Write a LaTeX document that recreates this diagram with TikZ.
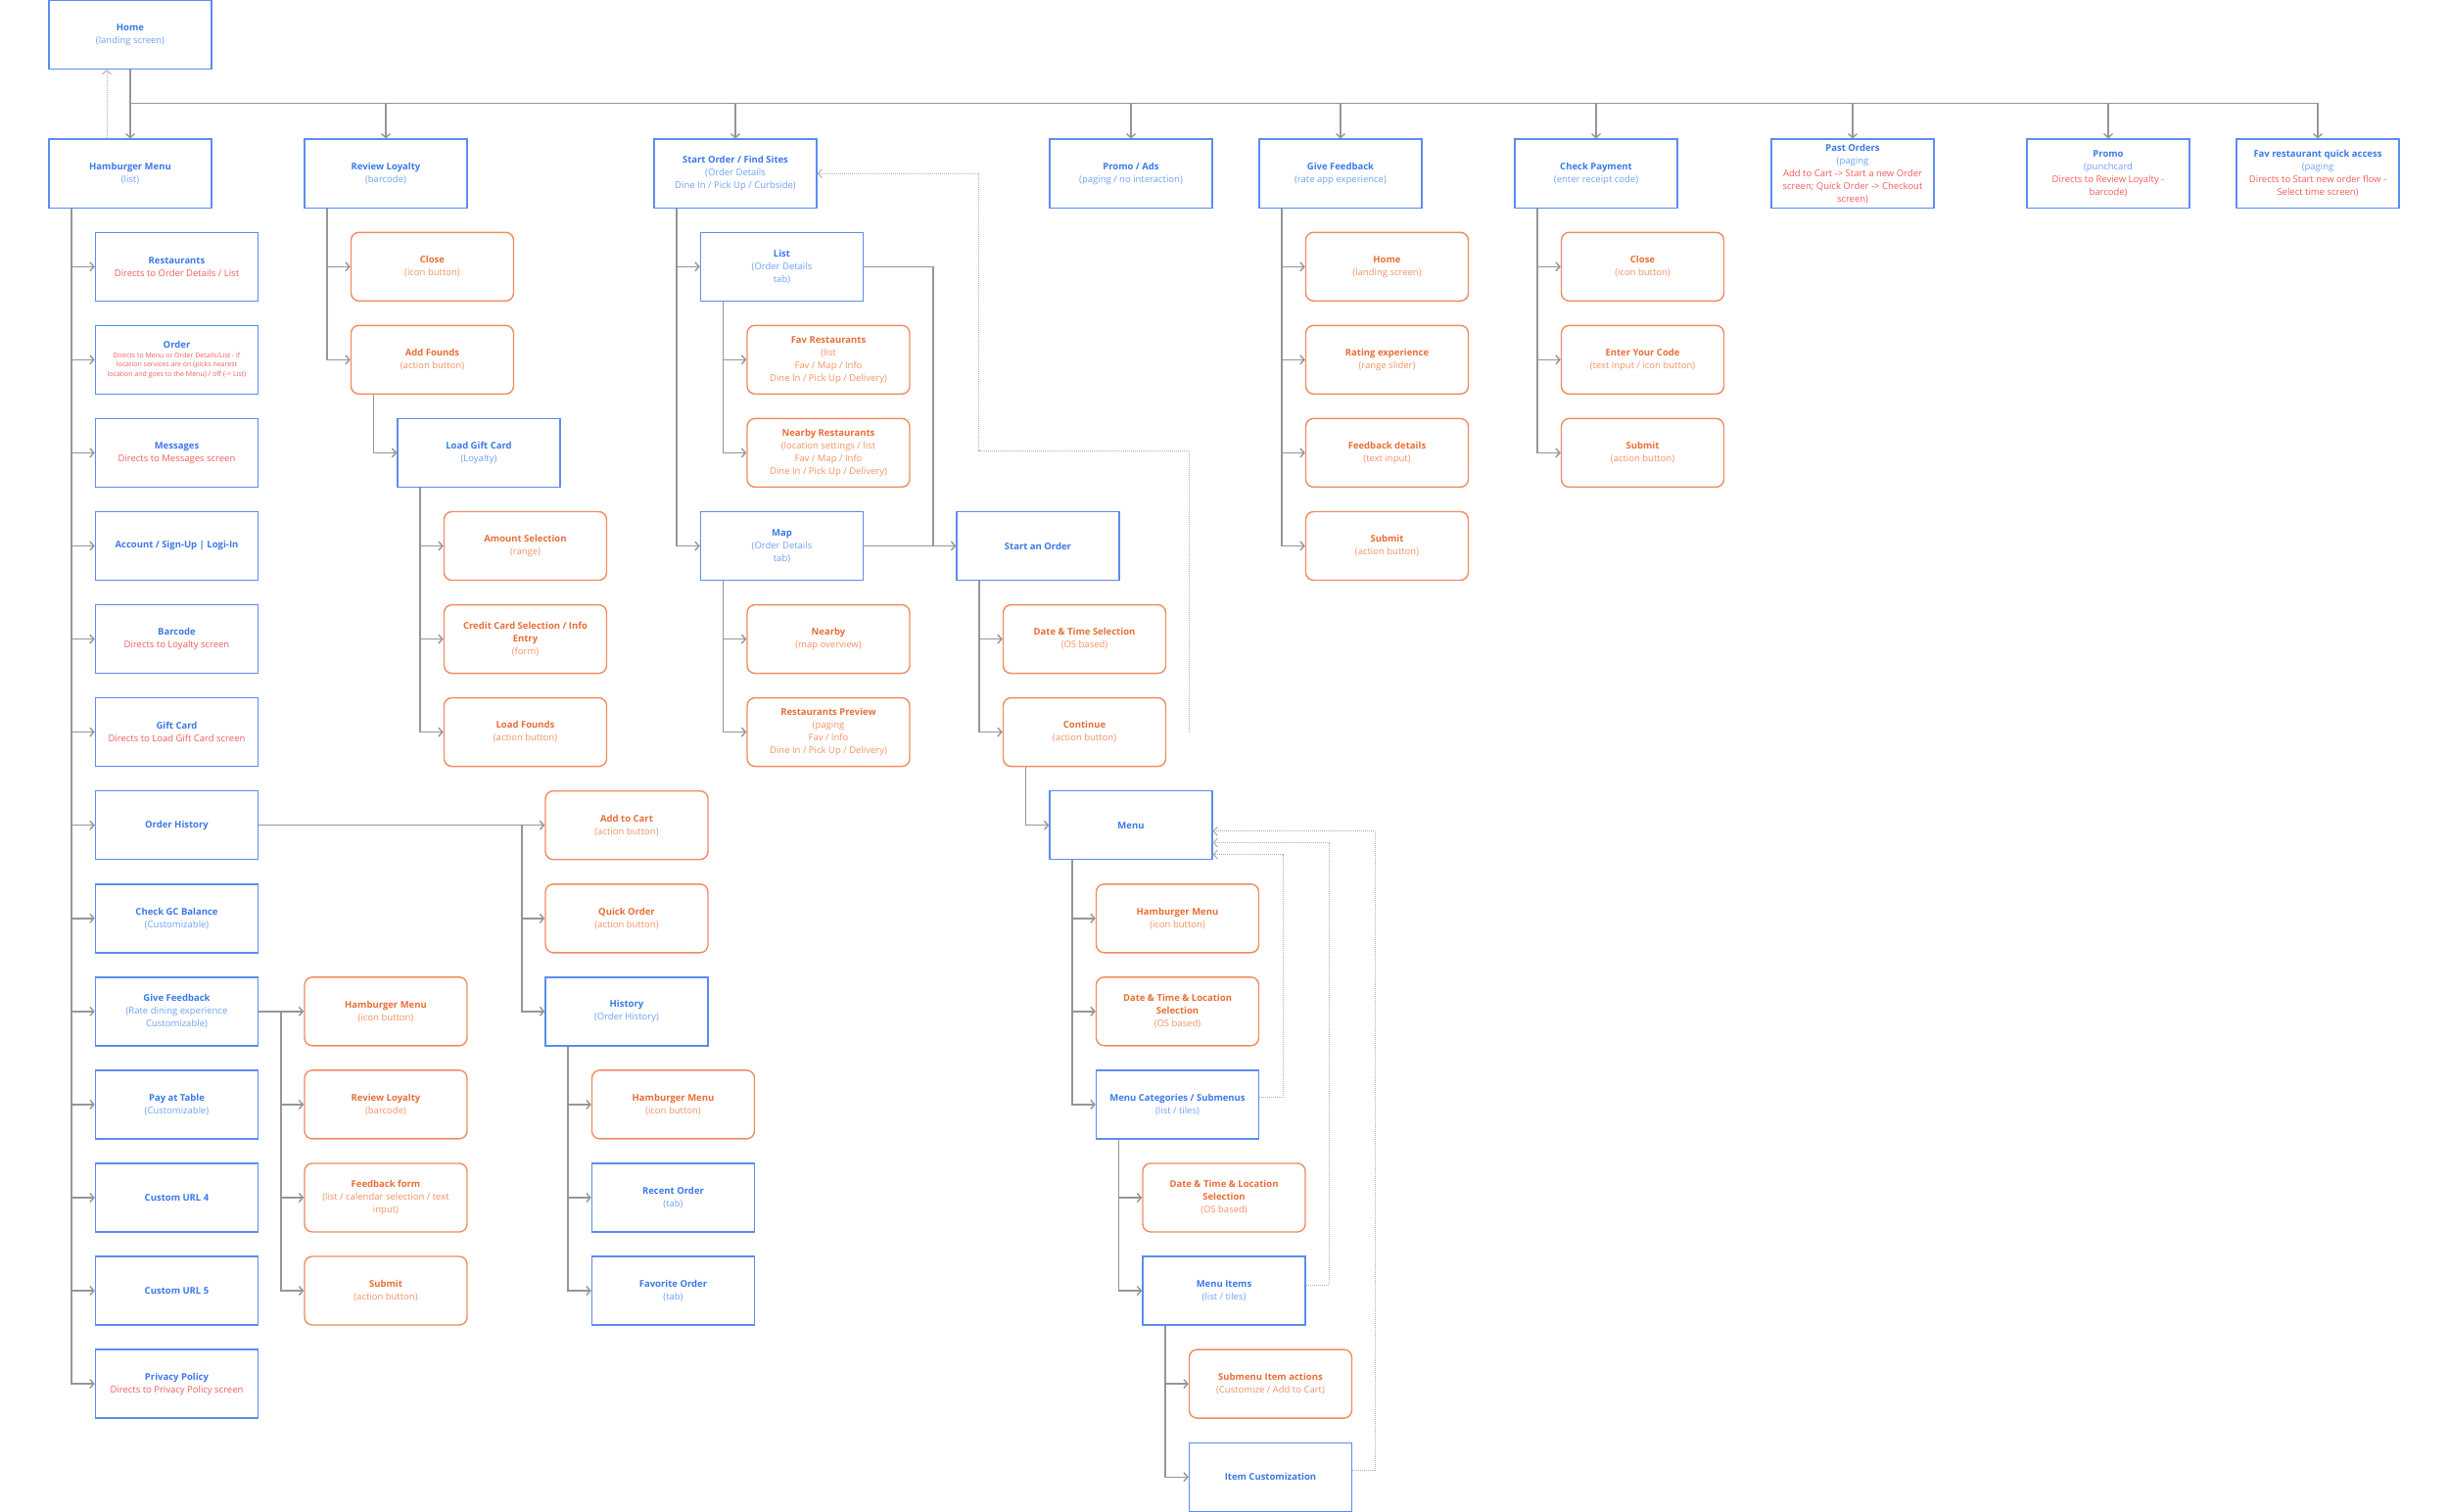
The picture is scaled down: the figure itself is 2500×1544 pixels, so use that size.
\documentclass[tikz,border=0pt]{standalone}
\usepackage{fontspec}
\setmainfont{Open Sans}
\usepackage{tikz}
\usetikzlibrary{calc, positioning, arrows.meta}
\usepackage{xcolor}
\definecolor{scrnblue}{RGB}{91, 141, 239}
\definecolor{titleblue}{RGB}{60, 120, 230}
\definecolor{subblue}{RGB}{110, 160, 240}
\definecolor{dirred}{RGB}{240, 90, 90}
\definecolor{actorange}{RGB}{240, 140, 95}
\definecolor{acttitle}{RGB}{230, 110, 55}
\definecolor{actsub}{RGB}{240, 145, 100}
\definecolor{linkgray}{RGB}{150, 150, 150}
\definecolor{backgray}{RGB}{175, 175, 175}
\newcommand{\scrtitle}[1]{\textcolor{titleblue}{\bfseries #1}}
\newcommand{\acttitle}[1]{\textcolor{acttitle}{\bfseries #1}}
\newcommand{\directs}[1]{\textcolor{dirred}{#1}}

\begin{document}
\begin{tikzpicture}[x=1pt, y=-1pt,
    screen/.style={draw=scrnblue, line width=1.4pt, minimum width=166pt, minimum height=70pt,
      inner sep=2pt, align=center, text=subblue, font=\fontsize{9.5}{13}\selectfont},
    action/.style={screen, draw=actorange, rounded corners=8pt, text=actsub},
    trunk/.style={draw=linkgray, line width=1.4pt},
    link/.style={trunk, -{Straight Barb[length=4pt, width=9pt]}},
    back/.style={draw=backgray, line width=1pt, dash pattern=on 1pt off 1pt,
      -{Straight Barb[length=4pt, width=9pt]}}]
  \useasboundingbox (0,0) rectangle (2500,1544);

  % top level
  \node[screen] (home) at (133,35.5) {\scrtitle{Home}\\(landing screen)};
  \node[screen] (hm) at (133,177.2) {\scrtitle{Hamburger Menu}\\(list)};
  \node[screen] (rl) at (394,177.2) {\scrtitle{Review Loyalty}\\(barcode)};
  \node[screen] (so) at (751,177.2) {\scrtitle{Start Order / Find Sites}\\(Order Details\\Dine In / Pick Up / Curbside)};
  \node[screen] (ads) at (1155,177.2) {\scrtitle{Promo / Ads}\\(paging / no interaction)};
  \node[screen] (gf) at (1369,177.2) {\scrtitle{Give Feedback}\\(rate app experience)};
  \node[screen] (cp) at (1630,177.2) {\scrtitle{Check Payment}\\(enter receipt code)};
  \node[screen] (past) at (1892,177.2) {\scrtitle{Past Orders}\\(paging\\\directs{Add to Cart -> Start a new Order}\\\directs{screen; Quick Order -> Checkout}\\\directs{screen)}};
  \node[screen] (promo) at (2153,177.2) {\scrtitle{Promo}\\(punchcard\\\directs{Directs to Review Loyalty -}\\\directs{barcode)}};
  \node[screen] (fav) at (2367,177.2) {\scrtitle{Fav restaurant quick access}\\(paging\\\directs{Directs to Start new order flow -}\\\directs{Select time screen)}};

  % hamburger menu
  \node[screen] (rest) at (180.5,272.3) {\scrtitle{Restaurants}\\\directs{Directs to Order Details / List}};
  \node[screen, font=\fontsize{7}{9.6}\selectfont] (order) at (180.5,367.3) {\scrtitle{\fontsize{9.5}{13}\selectfont Order}\\\directs{Directs to Menu or Order Details/List - if}\\\directs{location services are on (picks nearest}\\\directs{location and goes to the Menu) / off (-> List)}};
  \node[screen] (msgs) at (180.5,462.4) {\scrtitle{Messages}\\\directs{Directs to Messages screen}};
  \node[screen] (acct) at (180.5,557.5) {\scrtitle{Account / Sign-Up | Logi-In}};
  \node[screen] (barc) at (180.5,652.6) {\scrtitle{Barcode}\\\directs{Directs to Loyalty screen}};
  \node[screen] (gcard) at (180.5,747.6) {\scrtitle{Gift Card}\\\directs{Directs to Load Gift Card screen}};
  \node[screen] (ohist) at (180.5,842.7) {\scrtitle{Order History}};
  \node[screen] (gcbal) at (180.5,937.8) {\scrtitle{Check GC Balance}\\(Customizable)};
  \node[screen] (gfb) at (180.5,1032.8) {\scrtitle{Give Feedback}\\(Rate dining experience\\Customizable)};
  \node[screen] (pay) at (180.5,1127.9) {\scrtitle{Pay at Table}\\(Customizable)};
  \node[screen] (url4) at (180.5,1223.0) {\scrtitle{Custom URL 4}};
  \node[screen] (url5) at (180.5,1318.0) {\scrtitle{Custom URL 5}};
  \node[screen] (priv) at (180.5,1413.1) {\scrtitle{Privacy Policy}\\\directs{Directs to Privacy Policy screen}};

  % review loyalty
  \node[action] (rlclose) at (441.5,272.3) {\acttitle{Close}\\(icon button)};
  \node[action] (rladd) at (441.5,367.3) {\acttitle{Add Founds}\\(action button)};
  \node[screen] (lgc) at (489,462.4) {\scrtitle{Load Gift Card}\\(Loyalty)};
  \node[action] (amount) at (536.5,557.5) {\acttitle{Amount Selection}\\(range)};
  \node[action] (ccard) at (536.5,652.6) {\acttitle{Credit Card Selection / Info}\\\acttitle{Entry}\\(form)};
  \node[action] (loadf) at (536.5,747.6) {\acttitle{Load Founds}\\(action button)};

  % order history
  \node[action] (addcart) at (640,842.7) {\acttitle{Add to Cart}\\(action button)};
  \node[action] (quick) at (640,937.8) {\acttitle{Quick Order}\\(action button)};
  \node[screen] (hist) at (640,1032.8) {\scrtitle{History}\\(Order History)};
  \node[action] (histhm) at (687.5,1127.9) {\acttitle{Hamburger Menu}\\(icon button)};
  \node[screen] (recent) at (687.5,1223.0) {\scrtitle{Recent Order}\\(tab)};
  \node[screen] (favord) at (687.5,1318.0) {\scrtitle{Favorite Order}\\(tab)};

  % give feedback (menu)
  \node[action] (gfhm) at (394,1032.8) {\acttitle{Hamburger Menu}\\(icon button)};
  \node[action] (gfrl) at (394,1127.9) {\acttitle{Review Loyalty}\\(barcode)};
  \node[action] (gfform) at (394,1223.0) {\acttitle{Feedback form}\\(list / calendar selection / text\\input)};
  \node[action] (gfsub) at (394,1318.0) {\acttitle{Submit}\\(action button)};

  % start order
  \node[screen] (list) at (798.5,272.3) {\scrtitle{List}\\(Order Details\\tab)};
  \node[action] (favrest) at (846,367.3) {\acttitle{Fav Restaurants}\\(list\\Fav / Map / Info\\Dine In / Pick Up / Delivery)};
  \node[action] (nearrest) at (846,462.4) {\acttitle{Nearby Restaurants}\\(location settings / list\\Fav / Map / Info\\Dine In / Pick Up / Delivery)};
  \node[screen] (map) at (798.5,557.5) {\scrtitle{Map}\\(Order Details\\tab)};
  \node[action] (nearby) at (846,652.6) {\acttitle{Nearby}\\(map overview)};
  \node[action] (rprev) at (846,747.6) {\acttitle{Restaurants Preview}\\(paging\\Fav / Info\\Dine In / Pick Up / Delivery)};
  \node[screen] (startord) at (1060,557.5) {\scrtitle{Start an Order}};
  \node[action] (dtsel) at (1107.5,652.6) {\acttitle{Date \& Time Selection}\\(OS based)};
  \node[action] (cont) at (1107.5,747.6) {\acttitle{Continue}\\(action button)};
  \node[screen] (menu) at (1155,842.7) {\scrtitle{Menu}};
  \node[action] (menuhm) at (1202.5,937.8) {\acttitle{Hamburger Menu}\\(icon button)};
  \node[action] (menudtl) at (1202.5,1032.8) {\acttitle{Date \& Time \& Location}\\\acttitle{Selection}\\(OS based)};
  \node[screen] (mcat) at (1202.5,1127.9) {\scrtitle{Menu Categories / Submenus}\\(list / tiles)};
  \node[action] (mcdtl) at (1250,1223.0) {\acttitle{Date \& Time \& Location}\\\acttitle{Selection}\\(OS based)};
  \node[screen] (mitems) at (1250,1318.0) {\scrtitle{Menu Items}\\(list / tiles)};
  \node[action] (subact) at (1297.5,1413.1) {\acttitle{Submenu Item actions}\\(Customize / Add to Cart)};
  \node[screen] (icust) at (1297.5,1508.2) {\scrtitle{Item Customization}};

  % give feedback (app)
  \node[action] (fbhome) at (1416.5,272.3) {\acttitle{Home}\\(landing screen)};
  \node[action] (fbrate) at (1416.5,367.3) {\acttitle{Rating experience}\\(range slider)};
  \node[action] (fbdet) at (1416.5,462.4) {\acttitle{Feedback details}\\(text input)};
  \node[action] (fbsub) at (1416.5,557.5) {\acttitle{Submit}\\(action button)};

  % check payment
  \node[action] (cpclose) at (1677.5,272.3) {\acttitle{Close}\\(icon button)};
  \node[action] (cpcode) at (1677.5,367.3) {\acttitle{Enter Your Code}\\(text input / icon button)};
  \node[action] (cpsub) at (1677.5,462.4) {\acttitle{Submit}\\(action button)};

  % connectors from home
  \coordinate (bus) at (0,105.5);
  \draw[trunk] (home.south) -- (home.south |- bus) -- (fav.north |- bus);
  \draw[link] (home.south) -- (hm.north);
  \foreach \n in {rl,so,ads,gf,cp,past,promo,fav}
    \draw[link] (\n.north |- bus) -- (\n.north);
  \draw[back] ([xshift=-24pt]hm.north) -- ([xshift=-24pt]home.south);

  % parent -> child trunks
  \foreach \n in {rest,order,msgs,acct,barc,gcard,ohist,gcbal,gfb,pay,url4,url5,priv}
    \draw[link] ([xshift=23.5pt]hm.south west) |- (\n.west);
  \foreach \n in {rlclose,rladd}
    \draw[link] ([xshift=23.5pt]rl.south west) |- (\n.west);
  \draw[link] ([xshift=23.5pt]rladd.south west) |- (lgc.west);
  \foreach \n in {amount,ccard,loadf}
    \draw[link] ([xshift=23.5pt]lgc.south west) |- (\n.west);
  \foreach \n in {histhm,recent,favord}
    \draw[link] ([xshift=23.5pt]hist.south west) |- (\n.west);
  \foreach \n in {list,map}
    \draw[link] ([xshift=23.5pt]so.south west) |- (\n.west);
  \foreach \n in {favrest,nearrest}
    \draw[link] ([xshift=23.5pt]list.south west) |- (\n.west);
  \foreach \n in {nearby,rprev}
    \draw[link] ([xshift=23.5pt]map.south west) |- (\n.west);
  \foreach \n in {dtsel,cont}
    \draw[link] ([xshift=23.5pt]startord.south west) |- (\n.west);
  \draw[link] ([xshift=23.5pt]cont.south west) |- (menu.west);
  \foreach \n in {menuhm,menudtl,mcat}
    \draw[link] ([xshift=23.5pt]menu.south west) |- (\n.west);
  \foreach \n in {mcdtl,mitems}
    \draw[link] ([xshift=23.5pt]mcat.south west) |- (\n.west);
  \foreach \n in {subact,icust}
    \draw[link] ([xshift=23.5pt]mitems.south west) |- (\n.west);
  \foreach \n in {fbhome,fbrate,fbdet,fbsub}
    \draw[link] ([xshift=23.5pt]gf.south west) |- (\n.west);
  \foreach \n in {cpclose,cpcode,cpsub}
    \draw[link] ([xshift=23.5pt]cp.south west) |- (\n.west);

  % side branches
  \coordinate (ohfork) at ([xshift=-23.5pt]addcart.west);
  \draw[link] (ohist.east) -- (addcart.west);
  \foreach \n in {quick,hist}
    \draw[link] (ohfork) |- (\n.west);
  \coordinate (gffork) at ([xshift=-23.5pt]gfhm.west);
  \draw[link] (gfb.east) -- (gfhm.west);
  \foreach \n in {gfrl,gfform,gfsub}
    \draw[link] (gffork) |- (\n.west);
  \coordinate (sofork) at ([xshift=-23.5pt]startord.west);
  \draw[trunk] (list.east) -| (sofork);
  \draw[link] (map.east) -- (startord.west);

  % dotted returns
  \coordinate (contend) at ([xshift=23pt]cont.east);
  \coordinate (backbend) at (999.6,460);
  \draw[back] (contend) |- (backbend) |- (so.east);
  \coordinate (mcup) at (1310,872.6);
  \coordinate (miup) at (1357,860.5);
  \coordinate (icup) at (1404,848.8);
  \draw[back] ([yshift=7pt]mcat.east) -| (mcup) -- (menu.east |- mcup);
  \draw[back] ([yshift=6pt]mitems.east) -| (miup) -- (menu.east |- miup);
  \draw[back] ([yshift=7pt]icust.east) -| (icup) -- (menu.east |- icup);
\end{tikzpicture}
\end{document}
